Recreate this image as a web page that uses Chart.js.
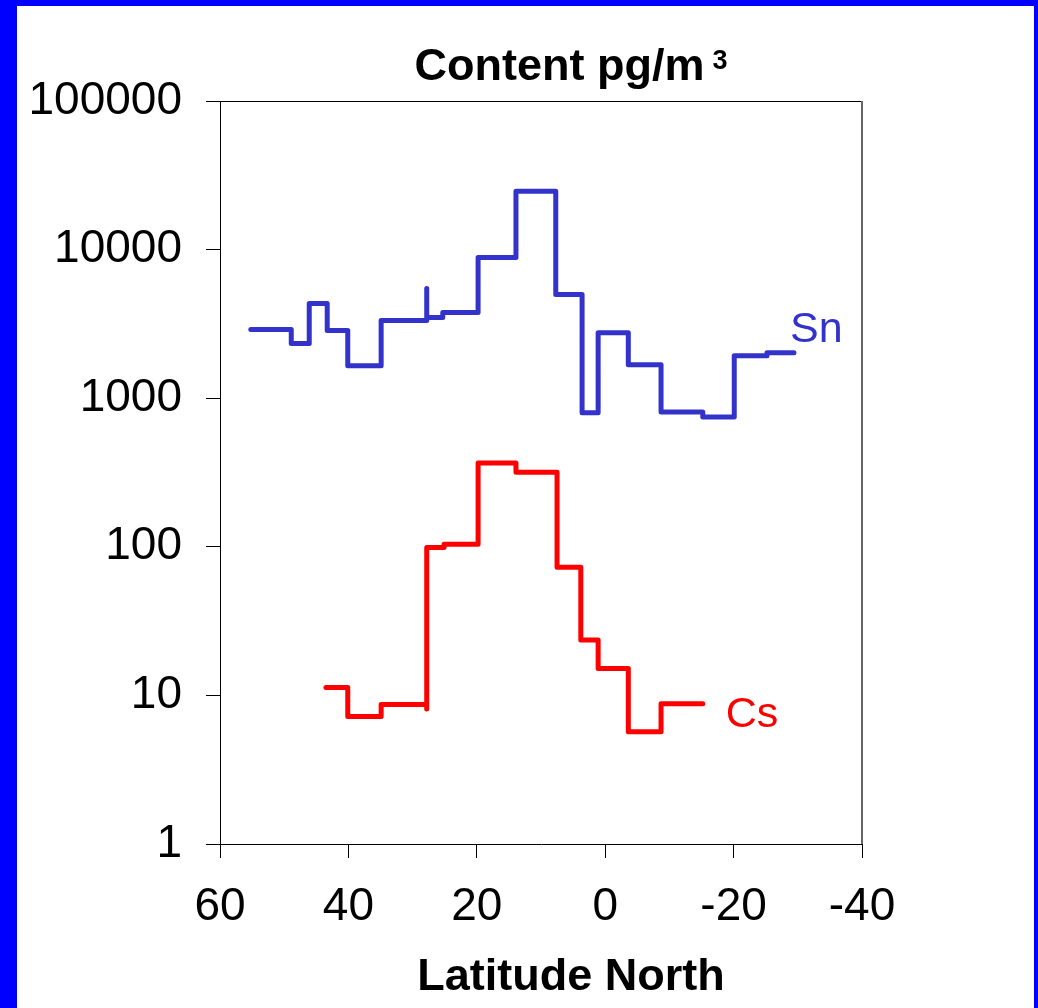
<!DOCTYPE html>
<html>
<head>
<meta charset="utf-8">
<script src="https://cdn.jsdelivr.net/npm/chart.js@4.4.1/dist/chart.umd.min.js"></script>
<style>
  html, body { margin: 0; padding: 0; }
  body { width: 1038px; height: 1008px; background: #0000ff; overflow: hidden; position: relative; }
  #frame { position: absolute; left: 17px; top: 6px; width: 1017px; height: 1002px; background: #fff; }
</style>
</head>
<body>
<div id="frame"><canvas id="grafico"></canvas></div>
<script>
// latitude (deg N) where each step starts, and the content from there on (pg/m3)
const snLat = [55.2, 48.9, 46.1, 43.3, 40.1, 34.9, 27.8, 27.8, 25.3, 19.8, 13.9, 7.7, 3.6, 1.1, -3.6, -8.7, -15.2, -20.1, -25.2, -29.4];
const snVal = [2900, 2330, 4340, 2850, 1655, 3330, 5470, 3490, 3770, 8860, 24700, 4990, 798, 2760, 1680, 809, 748, 1930, 2020, 2020];

const csLat = [43.5, 40.1, 34.9, 27.8, 27.8, 25.1, 19.8, 13.9, 7.5, 3.8, 1.1, -3.6, -8.7, -15.2];
const csVal = [11.3, 7.2, 8.7, 8.1, 99, 104, 366, 318, 72.8, 23.6, 15.2, 5.7, 8.8, 8.8];

const yTicks = [1, 10, 100, 1000, 10000, 100000];
const seriesNames = ["Sn", "Cs"];
const seriesColors = ["#3333cc", "#ff0000"];

const FONTE = "'Liberation Sans', Arial, Helvetica, sans-serif";

function pontos(lat, val) {
  return lat.map((x, i) => ({ x: x, y: val[i] }));
}

// box around the plot area (top and right sides, the axes draw the rest)
const moldura = {
  id: "moldura",
  afterDraw(chart) {
    const a = chart.chartArea;
    const ctx = chart.ctx;
    ctx.save();
    ctx.strokeStyle = "#000";
    ctx.lineWidth = 1;
    ctx.beginPath();
    ctx.moveTo(a.left, a.top + 0.5);
    ctx.lineTo(a.right, a.top + 0.5);
    ctx.stroke();
    ctx.strokeStyle = "#666";
    ctx.lineWidth = 2;
    ctx.beginPath();
    ctx.moveTo(a.right, a.top);
    ctx.lineTo(a.right, a.bottom);
    ctx.stroke();
    ctx.restore();
  }
};

// titles and the labels at the end of each series
const textos = {
  id: "textos",
  afterDraw(chart) {
    const a = chart.chartArea;
    const ctx = chart.ctx;
    const cx = (a.left + a.right) / 2 + 30;
    ctx.save();
    ctx.fillStyle = "#000";
    ctx.textBaseline = "alphabetic";
    ctx.textAlign = "left";

    ctx.font = "bold 45px " + FONTE;
    const t1 = "Content pg/m";
    const w1 = ctx.measureText(t1).width;
    ctx.font = "bold 27px " + FONTE;
    const w2 = ctx.measureText("3").width;
    const x0 = cx - (w1 + 8 + w2) / 2;
    ctx.font = "bold 45px " + FONTE;
    ctx.fillText(t1, x0, a.top - 21);
    ctx.font = "bold 27px " + FONTE;
    ctx.fillText("3", x0 + w1 + 8, a.top - 32);

    ctx.font = "bold 45px " + FONTE;
    ctx.textAlign = "center";
    ctx.fillText("Latitude North", cx, a.bottom + 146);

    const desloc = [[-4, -11], [23, 23]];
    ctx.textAlign = "left";
    ctx.font = "43px " + FONTE;
    chart.data.datasets.forEach((ds, i) => {
      const pts = chart.getDatasetMeta(i).data;
      const p = pts[pts.length - 1];
      ctx.fillStyle = seriesColors[i];
      ctx.fillText(seriesNames[i], p.x + desloc[i][0], p.y + desloc[i][1]);
    });
    ctx.restore();
  }
};

const grafico = new Chart(document.getElementById("grafico"), {
  type: "line",
  data: {
    datasets: [
      { label: seriesNames[0], data: pontos(snLat, snVal), borderColor: seriesColors[0] },
      { label: seriesNames[1], data: pontos(csLat, csVal), borderColor: seriesColors[1] }
    ]
  },
  options: {
    animation: false,
    responsive: true,
    maintainAspectRatio: false,
    parsing: { xAxisKey: "x", yAxisKey: "y" },
    datasets: {
      line: {
        stepped: true,
        borderWidth: 5,
        pointRadius: 0,
        fill: false,
        borderJoinStyle: "round",
        borderCapStyle: "round"
      }
    },
    layout: { padding: { top: 95, right: 172, left: 0, bottom: 0 } },
    plugins: {
      legend: { display: false },
      tooltip: { enabled: false },
      title: { display: false }
    },
    scales: {
      x: {
        type: "linear",
        reverse: true,
        min: -40,
        max: 60,
        afterFit: (s) => { s.height = 164; },
        ticks: {
          stepSize: 20,
          padding: 22,
          color: "#000",
          font: { family: FONTE, size: 46 },
          maxRotation: 0
        },
        grid: { drawOnChartArea: false, drawTicks: true, tickLength: 14, color: "#000", lineWidth: 1 },
        border: { display: true, color: "#000", width: 1 }
      },
      y: {
        type: "logarithmic",
        min: 1,
        max: 100000,
        afterFit: (s) => { s.width = 203; },
        afterBuildTicks: (s) => { s.ticks = yTicks.map(v => ({ value: v })); },
        ticks: {
          padding: 24,
          color: "#000",
          font: { family: FONTE, size: 46 },
          callback: (v) => String(v)
        },
        grid: { drawOnChartArea: false, drawTicks: true, tickLength: 14, color: "#000", lineWidth: 1 },
        border: { display: true, color: "#000", width: 1 }
      }
    }
  },
  plugins: [moldura, textos]
});
</script>
</body>
</html>
